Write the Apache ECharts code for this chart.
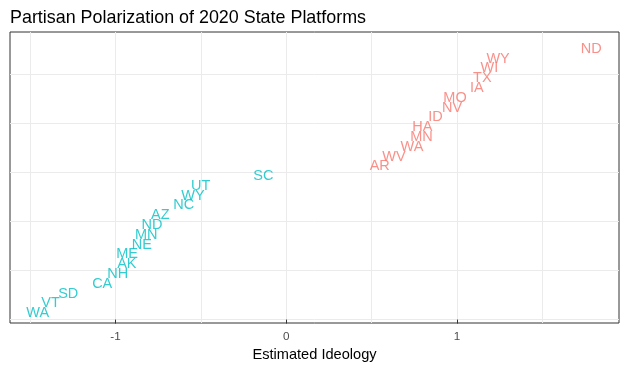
<!DOCTYPE html>
<html>
<head>
<meta charset="utf-8">
<script src="https://cdn.jsdelivr.net/npm/echarts@6/dist/echarts.min.js"></script>
<style>
html,body{margin:0;padding:0;background:#fff;}
#chart{width:627px;height:369px;}
</style>
</head>
<body>
<div id="chart"></div>
<script>
// Democratic platforms
const demStates   = ['WA','VT','SD','CA','NH','AK','ME','NE','MN','ND','AZ','NC','WY','UT','SC'];
const demIdeology = [-1.456,-1.381,-1.277,-1.078,-0.987,-0.934,-0.932,-0.846,-0.820,-0.787,-0.738,-0.601,-0.547,-0.501,-0.134];
const demRank     = [1,2,3,4,5,6,7,8,9,10,11,12,13,14,15];
// Republican platforms
const repStates   = ['AR','WV','WA','MN','HA','ID','NV','MO','IA','TX','WI','WY','ND'];
const repIdeology = [0.547,0.630,0.736,0.791,0.796,0.873,0.971,0.988,1.116,1.148,1.189,1.240,1.786];
const repRank     = [16,17,18,19,20,21,22,23,24,25,26,27,28];
// axes
const xTickLabels = [-1,0,1];
const xGridLines  = [-1.5,-1,-0.5,0,0.5,1,1.5];
const yGridLines  = [0,5,10,15,20,25];
const xMin = -1.618, xMax = 1.948;
const yMin = -0.35, yMax = 29.35;

const demData = demStates.map((s,i)=>[demIdeology[i], demRank[i], s]);
const repData = repStates.map((s,i)=>[repIdeology[i], repRank[i], s]);

const FONT = '"Liberation Sans", Arial, sans-serif';
const chart = echarts.init(document.getElementById('chart'), null, {renderer:'canvas'});
const labelStyle = (color)=>({
  show:true, position:'inside', offset:[0,3.5], formatter:(p)=>p.data[2],
  color:color, fontSize:14.5, fontFamily:FONT
});
chart.setOption({
  animation:false,
  backgroundColor:'#ffffff',
  title:{
    text:'Partisan Polarization of 2020 State Platforms',
    left:5, top:4,
    textStyle:{fontSize:17.9, fontWeight:'normal', color:'#000', fontFamily:FONT}
  },
  grid:{left:10, right:8, top:32, bottom:46, show:true, borderColor:'#333333', borderWidth:1, backgroundColor:'transparent'},
  xAxis:[{
    type:'value', min:xMin, max:xMax,
    name:'Estimated Ideology', nameLocation:'middle', nameGap:24,
    nameTextStyle:{fontSize:14.6, color:'#000', fontFamily:FONT},
    axisLine:{show:false},
    axisTick:{show:true, length:4, lineStyle:{color:'#333333'}, customValues:xTickLabels},
    axisLabel:{show:true, customValues:xTickLabels, color:'#4d4d4d', fontSize:11.7, fontFamily:FONT, margin:8},
    splitLine:{show:false}
  },{
    type:'value', min:xMin, max:xMax, position:'bottom',
    axisLine:{show:false},
    axisTick:{show:false, customValues:xGridLines},
    axisLabel:{show:false, customValues:xGridLines},
    splitLine:{show:true, lineStyle:{color:'#ebebeb', width:1}}
  }],
  yAxis:{
    type:'value', min:yMin, max:yMax,
    axisLine:{show:false},
    axisTick:{show:false, customValues:yGridLines},
    axisLabel:{show:false, customValues:yGridLines},
    splitLine:{show:true, lineStyle:{color:'#ebebeb', width:1}}
  },
  series:[{
    type:'scatter', name:'Democratic', data:demData, symbolSize:0,
    xAxisIndex:0, label:labelStyle('#00BFC4'), silent:true
  },{
    type:'scatter', name:'Republican', data:repData, symbolSize:0,
    xAxisIndex:0, label:labelStyle('#F8766D'), silent:true
  }]
});
</script>
</body>
</html>
